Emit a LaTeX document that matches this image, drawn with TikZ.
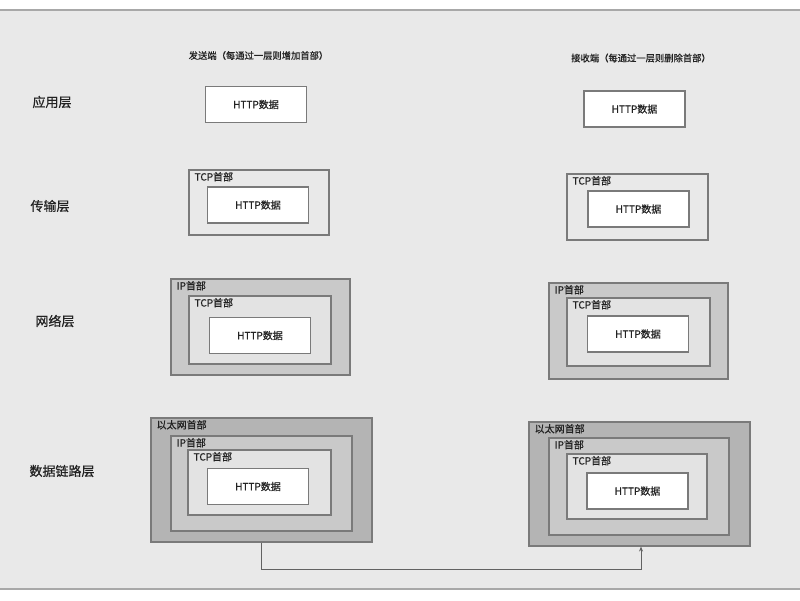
\documentclass[tikz,border=0pt]{standalone}
\usepackage{fontspec}
\newfontfamily\cjk[FakeBold=0.7]{Noto Sans CJK SC}
\usetikzlibrary{arrows.meta}
\definecolor{bgFill}{HTML}{E9E9E9}
\definecolor{edgeLine}{HTML}{A8A8A8}
\definecolor{boxLine}{HTML}{7A7A7A}
\definecolor{ethFill}{HTML}{B4B4B4}
\definecolor{ipFill}{HTML}{C9C9C9}
\definecolor{tcpFill}{HTML}{E3E3E3}
\definecolor{textGray}{HTML}{222222}

\begin{document}
\begin{tikzpicture}
[x=1pt,y=-1pt,
  boxDecorate/.style={shape=rectangle,draw=boxLine,line width=1.1pt,inner sep=0pt},
  httpDecorate/.style={boxDecorate,fill=white,minimum width=101pt,minimum height=36pt,
    font=\cjk\fontsize{10}{11}\selectfont,text=textGray},
  headDecorate/.style={anchor=north west,inner sep=0pt,xshift=6pt,yshift=-2.5pt,
    font=\cjk\fontsize{10}{11}\selectfont,text=textGray},
  layerDecorate/.style={inner sep=0pt,font=\cjk\fontsize{13}{14}\selectfont,text=textGray},
  titleDecorate/.style={inner sep=0pt,font=\cjk\fontsize{9.3}{10}\selectfont,text=textGray},
  lineDecorate/.style={-{Stealth[length=5pt,width=4pt]},draw=boxLine!80!black,line width=0.9pt}]
\useasboundingbox (0,0) rectangle (800,600);
%% page
\fill[white] (0,0) rectangle (800,600);
\fill[bgFill] (0,10) rectangle (800,589);
\draw[edgeLine,line width=1.8pt] (0,10) -- (800,10);
\draw[edgeLine,line width=1.8pt] (0,589) -- (800,589);
%% titles and layers
\node (sendTitle) at (258.5,55.5) [titleDecorate] {发送端（每通过一层则增加首部）};
\node (recvTitle) at (641,58) [titleDecorate] {接收端（每通过一层则删除首部）};
\foreach \nodename/\x/\y/\txt in {
  appLayer/52/102/应用层,
  transLayer/50/206/传输层,
  netLayer/55/321/网络层,
  linkLayer/62/471/数据链路层}
{
  \node (\nodename) at (\x,\y) [layerDecorate] {\txt};
}
%% header boxes
\foreach \nodename/\x/\y/\w/\h/\shade in {
  sTrTcp/259/202.5/140/65/bgFill,
  sNwIp/260.5/327/179/96/ipFill,
  sNwTcp/260/330/142/68/tcpFill,
  sDlEth/261.5/480/221/124/ethFill,
  sDlIp/261.5/483.5/181/95/ipFill,
  sDlTcp/259.5/482.5/143/65/tcpFill,
  rTrTcp/637.5/207/141/66/bgFill,
  rNwIp/638.5/331/179/96/ipFill,
  rNwTcp/638.5/332/143/68/tcpFill,
  rDlEth/639.5/484/221/124/ethFill,
  rDlIp/639/486.5/180/97/ipFill,
  rDlTcp/637/486.5/140/65/tcpFill}
{
  \node (\nodename) at (\x,\y) [boxDecorate,fill=\shade,minimum width=\w pt,minimum height=\h pt] {};
}
%% data boxes
\foreach \nodename/\x/\y in {
  sApp/256/104.5, sTrHttp/258/205, sNwHttp/260/335.5, sDlHttp/258/486.5,
  rApp/634.5/109, rTrHttp/638.5/209, rNwHttp/638/334, rDlHttp/637.5/491}
{
  \node (\nodename) at (\x,\y) [httpDecorate] {HTTP数据};
}
%% header labels
\foreach \nodename/\boxname/\txt in {
  sTrTcpHead/sTrTcp/TCP首部, sNwIpHead/sNwIp/IP首部, sNwTcpHead/sNwTcp/TCP首部,
  sDlEthHead/sDlEth/以太网首部, sDlIpHead/sDlIp/IP首部, sDlTcpHead/sDlTcp/TCP首部,
  rTrTcpHead/rTrTcp/TCP首部, rNwIpHead/rNwIp/IP首部, rNwTcpHead/rNwTcp/TCP首部,
  rDlEthHead/rDlEth/以太网首部, rDlIpHead/rDlIp/IP首部, rDlTcpHead/rDlTcp/TCP首部}
{
  \node (\nodename) at (\boxname.north west) [headDecorate] {\txt};
}
%% transfer
\draw[lineDecorate] (sDlEth.south) -- ++(0,27) -| ([xshift=1.5pt]rDlEth.south);
\end{tikzpicture}
\end{document}
